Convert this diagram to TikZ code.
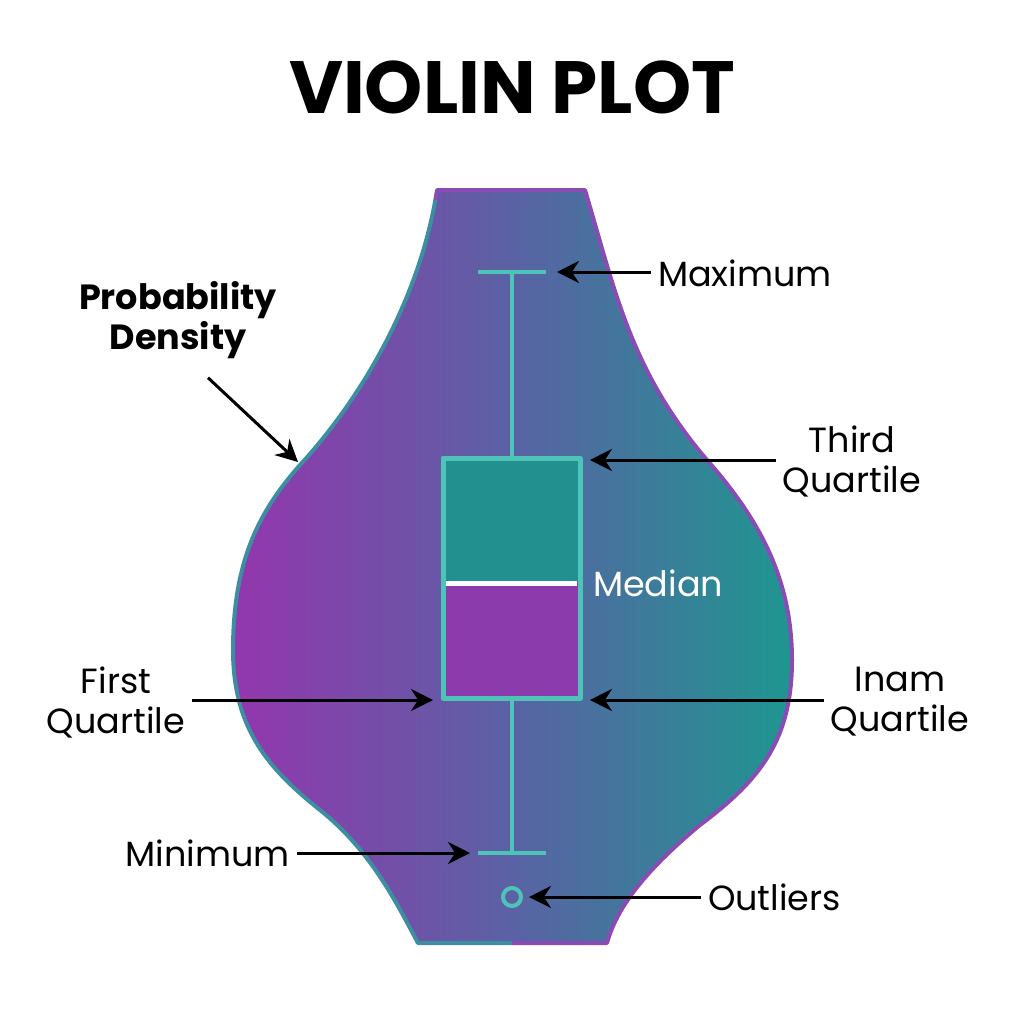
\documentclass[tikz,border=0pt]{standalone}
\usepackage{fontspec}
\setmainfont{Poppins}
\usepackage{tikz}
\usetikzlibrary{calc,arrows.meta,positioning}

\definecolor{vpurple}{HTML}{9336AE}
\definecolor{vmid}{HTML}{5A62A4}
\definecolor{vteal}{HTML}{1E9690}
\definecolor{boxedge}{HTML}{4EC3B8}
\definecolor{boxtop}{HTML}{22908F}
\definecolor{boxbot}{HTML}{8B3BAB}
\definecolor{edgeleft}{HTML}{3C8EA0}
\definecolor{edgeright}{HTML}{8A4CB4}

\pgfdeclarehorizontalshading{violinshade}{100bp}{color(0bp)=(vpurple); color(25bp)=(vpurple); color(50bp)=(vmid); color(75bp)=(vteal); color(100bp)=(vteal)}

\tikzset{
  lbl/.style={font=\fontsize{17.5}{20}\selectfont, align=center, text=black},
  ptr/.style={-{Stealth[length=11pt,width=11pt]}, line width=1.5pt, black},
  whisk/.style={boxedge, line width=2.2pt},
}

\def\violinpath{(437,190) -- (585,190)
  .. controls (615,290) and (630,370) .. (707,460)
  .. controls (760,520) and (792,580) .. (792,660)
  .. controls (792,740) and (760,780) .. (700,825)
  .. controls (652,865) and (618,903) .. (607,943)
  -- (418,943)
  .. controls (395,900) and (370,850) .. (320,810)
  .. controls (270,770) and (233,730) .. (233,650)
  .. controls (233,560) and (260,510) .. (300,465)
  .. controls (360,400) and (420,300) .. (437,190) -- cycle}

\begin{document}
\begin{tikzpicture}[x=0.5pt, y=-0.5pt, line join=round]
\fill[white] (0,0) rectangle (1024,1024);
\useasboundingbox (0,0) rectangle (1024,1024);
% title
\node[font=\fontsize{37}{42}\selectfont\bfseries] (title) at (512,87) {VIOLIN PLOT};
% violin body
\shade[shading=violinshade] \violinpath;
\begin{scope}
  \clip (0,200) rectangle (512,1024);
  \draw[edgeleft, line width=2pt] \violinpath;
\end{scope}
\begin{scope}
  \clip (0,0) -- (1024,0) -- (1024,1024) -- (512,1024) -- (512,200) -- (0,200) -- cycle;
  \draw[edgeright, line width=2pt] \violinpath;
\end{scope}
% box and whiskers
\coordinate (maxc) at (512,272);
\coordinate (minc) at (512,853);
\coordinate (q3c) at (512,458);
\coordinate (q1c) at (512,698);
\fill[boxtop] (443,458) rectangle (580,583);
\fill[boxbot] (443,583) rectangle (580,698);
\draw[white, line width=2.5pt] (446,583) -- (577,583);
\draw[boxedge, line width=2.5pt] (443,458) rectangle (580,698);
\draw[whisk] (maxc) -- (q3c);
\draw[whisk] (q1c) -- (minc);
\draw[whisk] (478,272) -- (546,272);
\draw[whisk] (478,853) -- (546,853);
\node[draw=boxedge, circle, line width=2pt, minimum size=9pt, inner sep=0pt] (outl) at (512,897) {};
% pointer ends
\coordinate (maxpt) at (557,272);
\coordinate (q3pt) at (590,460);
\coordinate (q1pt) at (590,700);
\coordinate (firstpt) at (433,700);
\coordinate (minpt) at (470,853);
\coordinate (pdpt) at (298,462);
% labels
\node[lbl, anchor=west] (maxl) at (651,273) {Maximum};
\node[lbl] (q3l) at (852,461) {Third\\Quartile};
\node[lbl, text=white, anchor=west] (medl) at (586,583) {Median};
\node[lbl] (iqrl) at (900,702) {Inam\\Quartile};
\node[lbl] (q1l) at (116,702) {First\\Quartile};
\node[lbl, anchor=east] (minl) at (297,853) {Minimum};
\node[lbl, anchor=west] (outll) at (701,897) {Outliers};
\node[lbl, font=\fontsize{17.5}{20}\selectfont\bfseries] (pdl) at (178,320) {Probability\\Density};
% arrows
\draw[ptr] (maxl.west |- maxpt) -- (maxpt);
\draw[ptr] (q3l.west |- q3pt) -- (q3pt);
\draw[ptr] (iqrl.west |- q1pt) -- (q1pt);
\draw[ptr] (q1l.east |- firstpt) -- (firstpt);
\draw[ptr] (minl.east) -- (minpt);
\draw[ptr, shorten >=3pt] (outll.west) -- (outl.east);
\draw[ptr] ([xshift=15pt,yshift=-6pt]pdl.south) -- (pdpt);
\end{tikzpicture}
\end{document}
